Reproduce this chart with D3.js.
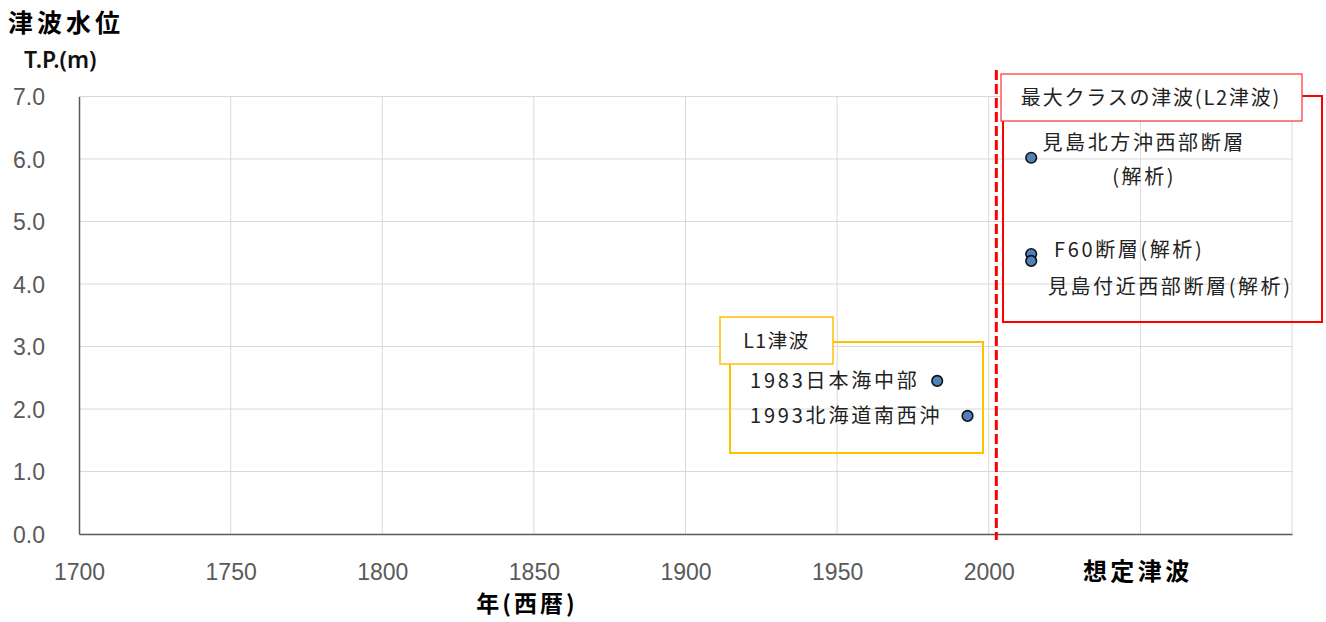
<!DOCTYPE html>
<html><head><meta charset="utf-8">
<script src="https://cdn.jsdelivr.net/npm/d3@7"></script>
<style>
  body { margin: 0; background: #fff; }
  svg { display: block; }
</style>
</head><body>
<svg id="chart" width="1326" height="622"></svg>
<script>
// Axis ticks and labels
const yearTicks = [1700, 1750, 1800, 1850, 1900, 1950, 2000, 2050, 2100];
const yearTickLabels = ["1700", "1750", "1800", "1850", "1900", "1950", "2000", "想定津波", ""];
const levelTicks = [0, 1, 2, 3, 4, 5, 6, 7];
const levelTickLabels = ["0.0", "1.0", "2.0", "3.0", "4.0", "5.0", "6.0", "7.0"];

// L1 tsunami: historical events
const l1Title = "L1津波";
const l1Names = ["1983日本海中部", "1993北海道南西沖"];
const l1Years = [1983, 1993];
const l1Levels = [2.45, 1.89];

// L2 tsunami: assumed maximum-class events (analysis)
const l2Title = "最大クラスの津波(L2津波)";
const l2Names = [["見島北方沖西部断層", "(解析)"], ["F60断層(解析)"], ["見島付近西部断層(解析)"]];
const l2Years = [2014, 2014, 2014];
const l2Levels = [6.02, 4.48, 4.37];
const l2Boundary = 2002.5;

const svg = d3.select("#chart");
const JP = "'Noto Sans CJK JP', 'Noto Sans', sans-serif";
const NUM = "'Liberation Sans', 'Noto Sans', sans-serif";

const x = d3.scaleLinear().domain([1700, 2100]).range([79, 1292]);
const y = d3.scaleLinear().domain([0, 7]).range([534, 96.5]);

// Gridlines
const grid = svg.append("g");
grid.selectAll("line.h").data(levelTicks.filter(d => d > 0)).join("line")
  .attr("x1", x(1700)).attr("x2", x(2100))
  .attr("y1", d => y(d)).attr("y2", d => y(d))
  .attr("stroke", "#d9d9d9").attr("stroke-width", 1);
grid.selectAll("line.v").data(yearTicks.filter(d => d > 1700)).join("line")
  .attr("x1", d => x(d)).attr("x2", d => x(d))
  .attr("y1", y(7)).attr("y2", y(0))
  .attr("stroke", "#d9d9d9").attr("stroke-width", 1);

// Axes
const xAxis = d3.axisBottom(x).tickValues(yearTicks).tickSize(0)
  .tickFormat((d, i) => yearTickLabels[i]);
const gx = svg.append("g").attr("transform", `translate(0,${y(0)})`).call(xAxis);
gx.select(".domain").attr("stroke", "#595959").attr("stroke-width", 1.5);
gx.selectAll(".tick text")
  .attr("dy", 0).attr("y", 46)
  .style("font-family", NUM).style("font-size", "23px").attr("fill", "#595959");
gx.selectAll(".tick text").filter((d, i) => i === 7)
  .style("font-family", JP).style("font-weight", "bold").style("font-size", "24px")
  .style("letter-spacing", "3.5px").attr("fill", "#000").attr("x", -3);

const yAxis = d3.axisLeft(y).tickValues(levelTicks).tickSize(0)
  .tickFormat((d, i) => levelTickLabels[i]);
const gy = svg.append("g").attr("transform", `translate(${x(1700)},0)`).call(yAxis);
gy.select(".domain").attr("stroke", "#595959").attr("stroke-width", 1.5);
gy.selectAll(".tick text")
  .attr("x", -34).attr("dy", "0.35em")
  .style("font-family", NUM).style("font-size", "23px").attr("fill", "#595959");

// Axis titles
svg.append("text").attr("x", 8).attr("y", 32).text("津波水位")
  .style("font-family", JP).style("font-weight", "bold").style("font-size", "25px")
  .style("letter-spacing", "4px").attr("fill", "#000");
svg.append("text").attr("x", 24).attr("y", 68).text("T.P.(m)")
  .style("font-family", "'Noto Sans', sans-serif").style("font-weight", "600").style("font-size", "23px").attr("fill", "#111");
svg.append("text").attr("x", 527).attr("y", 612).attr("text-anchor", "middle").text("年(西暦)")
  .style("font-family", JP).style("font-weight", "bold").style("font-size", "23px")
  .style("letter-spacing", "3px").attr("fill", "#000");

// L2 boundary
svg.append("line")
  .attr("x1", x(l2Boundary)).attr("x2", x(l2Boundary))
  .attr("y1", 70).attr("y2", 540)
  .attr("stroke", "#ff0000").attr("stroke-width", 3).attr("stroke-dasharray", "10,4");

// L1 group box
const l1 = svg.append("g");
l1.append("rect").attr("x", 730).attr("y", 342).attr("width", 253).attr("height", 111)
  .attr("fill", "none").attr("stroke", "#ffc000").attr("stroke-width", 2);
l1.append("rect").attr("x", 720).attr("y", 317).attr("width", 113).attr("height", 47)
  .attr("fill", "#fff").attr("stroke", "#ffc000").attr("stroke-width", 1.5);
l1.append("text").attr("x", 776.5).attr("y", 341).attr("dy", "0.35em").attr("text-anchor", "middle")
  .text(l1Title).style("font-family", JP).style("font-size", "19.5px").style("letter-spacing", "1.5px").attr("fill", "#222");

// L2 group box
const l2 = svg.append("g");
l2.append("rect").attr("x", 1003).attr("y", 96).attr("width", 319).attr("height", 226)
  .attr("fill", "none").attr("stroke", "#ff0000").attr("stroke-width", 2);
l2.append("rect").attr("x", 1001).attr("y", 74).attr("width", 301).attr("height", 47)
  .attr("fill", "#fff").attr("stroke", "#ff3030").attr("stroke-width", 1.2);
l2.append("text").attr("x", 1151).attr("y", 98).attr("dy", "0.35em").attr("text-anchor", "middle")
  .text(l2Title).style("font-family", JP).style("font-size", "20px").style("letter-spacing", "1.8px").attr("fill", "#222");

// L1 labels and points
const l1Pts = l1Names.map((n, i) => ({ name: n, year: l1Years[i], level: l1Levels[i] }));
svg.append("g").selectAll("text").data(l1Pts).join("text")
  .attr("x", 750).attr("y", d => y(d.level)).attr("dy", "0.35em")
  .text(d => d.name)
  .style("font-family", JP).style("font-size", "20px").style("letter-spacing", "2.8px").attr("fill", "#222");

// L2 labels and points
const l2Pts = l2Names.map((n, i) => ({ lines: n, year: l2Years[i], level: l2Levels[i] }));
const l2Offsets = [{ dx: 113, dy: -15, lh: 34 }, { dx: 98, dy: -4, lh: 0 }, { dx: 139, dy: 26, lh: 0 }];
const l2Lab = svg.append("g").selectAll("text").data(l2Pts).join("text")
  .attr("text-anchor", "middle")
  .style("font-family", JP).style("font-size", "20px").style("letter-spacing", "2.6px").attr("fill", "#222");
l2Lab.each(function (d, i) {
  const o = l2Offsets[i];
  d3.select(this).selectAll("tspan").data(d.lines).join("tspan")
    .attr("x", x(d.year) + o.dx)
    .attr("y", (t, j) => y(d.level) + o.dy + j * o.lh)
    .attr("dy", "0.35em")
    .text(t => t);
});

const allPts = l1Pts.concat(l2Pts);
svg.append("g").selectAll("circle").data(allPts).join("circle")
  .attr("cx", d => x(d.year)).attr("cy", d => y(d.level)).attr("r", 5.3)
  .attr("fill", "#4f81bd").attr("stroke", "#111").attr("stroke-width", 1.6);
</script>
</body></html>
